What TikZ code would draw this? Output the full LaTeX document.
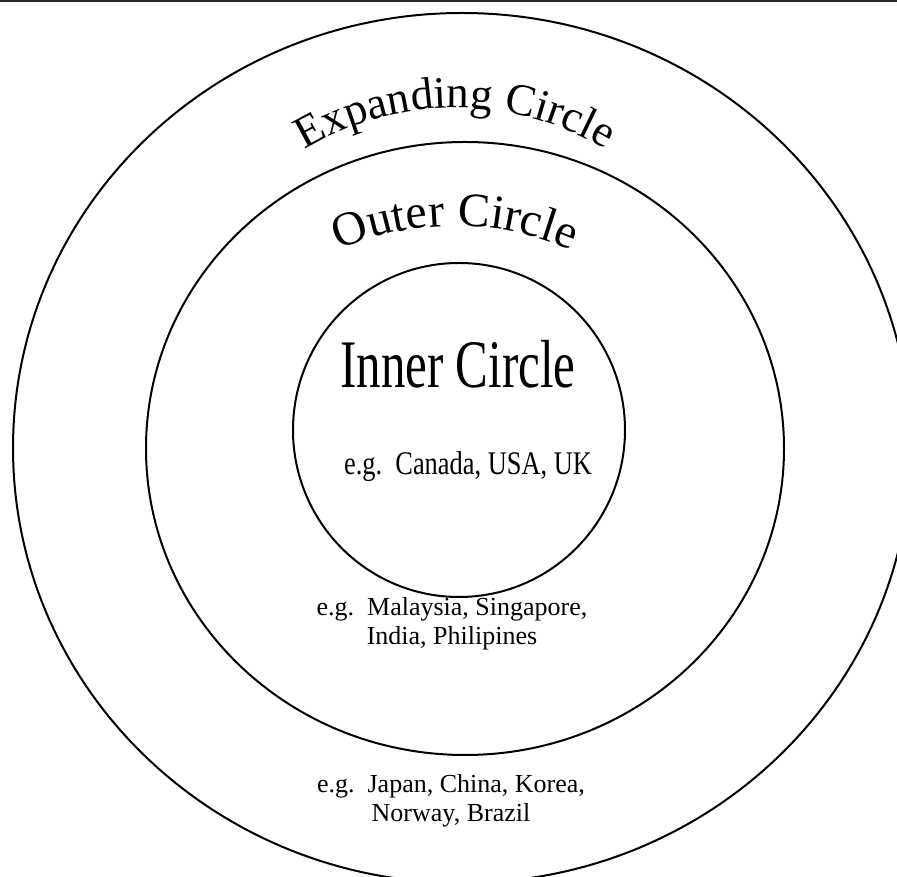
\documentclass[tikz,border=0pt]{standalone}
\usepackage{fontspec}
\setmainfont{Liberation Serif}
\usepackage{tikz}
\usetikzlibrary{shapes.geometric, decorations.text}
\definecolor{barcol}{HTML}{232A32}
\newcommand{\narrowtxt}[2]{\scalebox{#1}[1]{#2}}
\tikzset{
  % --- Kreise ---------------------------------------------
  ring/.style={draw, ellipse, line width=2pt, inner sep=0pt, outer sep=0pt},
  % --- Beschriftung ---------------------------------------
  bigtxt/.style={inner sep=0pt, anchor=base, font=\fontsize{68}{68}\selectfont},
  midtxt/.style={inner sep=0pt, anchor=base, font=\fontsize{33}{33}\selectfont},
  egtxt/.style={inner sep=0pt, anchor=base, align=center,
    font=\fontsize{26}{29.5}\selectfont},
  arclbl/.style={decorate, decoration={text along path, text align=center}}
}
\begin{document}
\begin{tikzpicture}[x=1pt, y=1pt]
  \useasboundingbox (0,0) rectangle (897,877);
  \clip (0,0) rectangle (897,877);
  \fill[barcol] (0,874.5) rectangle (897,877);

  \node[ring, minimum width=898pt, minimum height=870pt] (outer) at (462,429) {};
  \node[ring, minimum width=638pt, minimum height=613pt] (middle) at (465,428.5) {};
  \node[ring, minimum width=332pt, minimum height=334pt] (inner) at (459,447) {};

  % --- gebogene Titel ---
  \coordinate (expc) at (455,478);
  \coordinate (outc) at (455,360);
  \path[arclbl, decoration={text={|\fontsize{45}{45}\selectfont|Expanding Circle}}]
    ([shift={(135:291)}]expc) arc[start angle=135, end angle=45, radius=291];
  \path[arclbl, decoration={text={|\fontsize{48}{48}\selectfont|Outer Circle}}]
    ([shift={(125:291)}]outc) arc[start angle=125, end angle=55, radius=291];

  % --- Inner Circle ---
  \node[bigtxt] (innertitle) at (458,489) {\narrowtxt{0.72}{Inner Circle}};
  \node[midtxt] (innereg) at (468,402) {\narrowtxt{0.8}{e.g.\ \ Canada, USA, UK}};

  % --- Beispiele (base = letzte Zeile) ---
  \node[egtxt] (outereg) at (452,232) {e.g.\ \ Malaysia, Singapore,\\India, Philipines};
  \node[egtxt] (expeg) at (451,55) {e.g.\ \ Japan, China, Korea,\\Norway, Brazil};

\end{tikzpicture}
\end{document}
